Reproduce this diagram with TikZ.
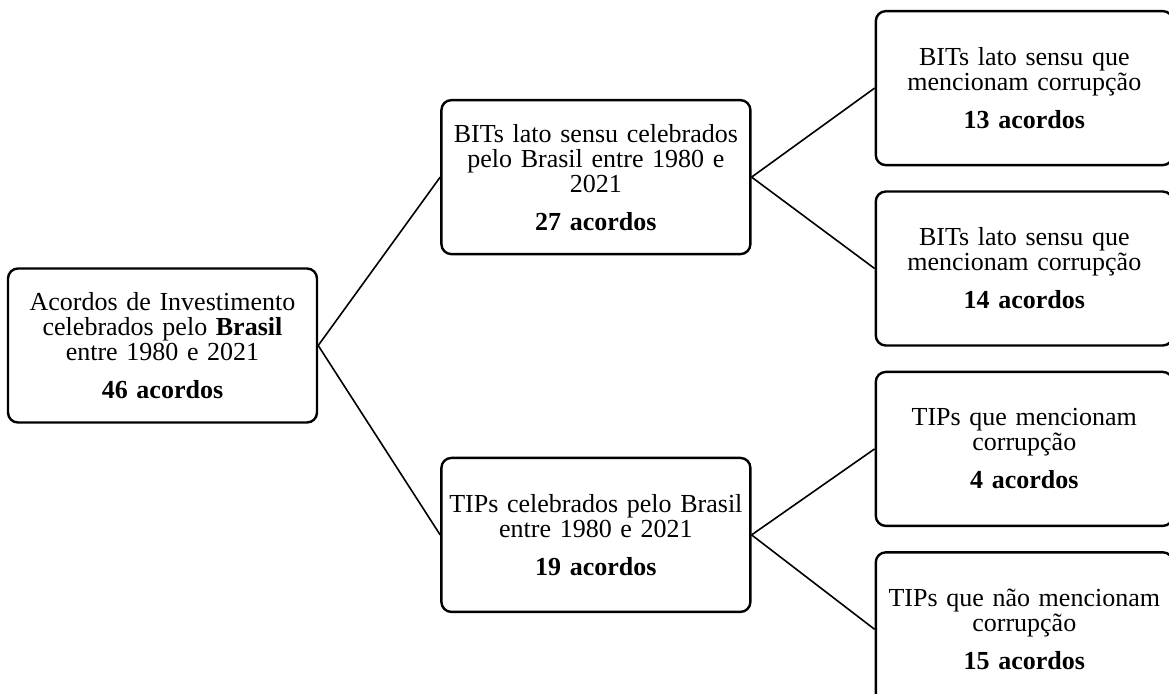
\documentclass[tikz,border=0pt]{standalone}
\usepackage{fontspec}
\setmainfont{Liberation Serif}
\usetikzlibrary{positioning}

\begin{document}
\begin{tikzpicture}[
  font=\fontsize{13}{12.5}\selectfont,
  node distance=12pt,
  box/.style={draw, line width=1.2pt, rounded corners=5pt, align=center,
              inner sep=2pt, minimum height=77pt, text width=150.5pt},
  leaf/.style={box, text width=144.5pt},
  ln/.style={line width=0.8pt}
]
\useasboundingbox (0,0) rectangle (584.5pt,-346.5pt);
\node[box] (acordos) at (81.25pt,-172.75pt)
      {Acordos de Investimento\\celebrados pelo \textbf{Brasil}\\entre 1980 e 2021\\[6.5pt]\textbf{46 acordos}};
\node[box, above right=6pt and 61pt of acordos] (bits)
      {BITs lato sensu celebrados\\pelo Brasil entre 1980 e\\2021\\[6.5pt]\textbf{27 acordos}};
\node[box, below right=16.5pt and 61pt of acordos] (tips)
      {TIPs celebrados pelo Brasil\\entre 1980 e 2021\\[6.5pt]\textbf{19 acordos}};
\node[leaf, right=61.5pt of bits, yshift=44.5pt] (bitscor)
      {BITs lato sensu que\\mencionam corrupção\\[6.5pt]\textbf{13 acordos}};
\node[leaf, below=of bitscor] (bitsout)
      {BITs lato sensu que\\mencionam corrupção\\[6.5pt]\textbf{14 acordos}};
\node[leaf, below=of bitsout] (tipscor)
      {TIPs que mencionam\\corrupção\\[6.5pt]\textbf{4 acordos}};
\node[leaf, below=of tipscor] (tipsout)
      {TIPs que não mencionam\\corrupção\\[6.5pt]\textbf{15 acordos}};
\draw[ln] (acordos.east) -- (bits.west);
\draw[ln] (acordos.east) -- (tips.west);
\draw[ln] (bits.east) -- (bitscor.west);
\draw[ln] (bits.east) -- (bitsout.west);
\draw[ln] (tips.east) -- (tipscor.west);
\draw[ln] (tips.east) -- (tipsout.west);
\end{tikzpicture}
\end{document}
